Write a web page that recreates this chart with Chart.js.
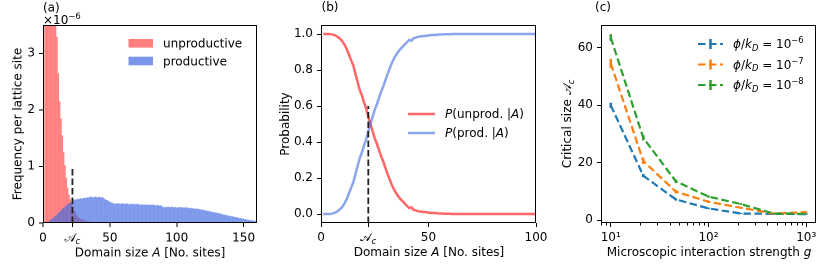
<!DOCTYPE html>
<html><head><meta charset="utf-8">
<script src="https://cdn.jsdelivr.net/npm/chart.js@4.4.1/dist/chart.umd.min.js"></script>
<style>
html,body{margin:0;padding:0;background:#fff;width:830px;height:277px;overflow:hidden}
canvas{position:absolute;left:0;top:0;width:830px;height:277px}
</style></head><body>
<canvas id="ca" width="830" height="277"></canvas>
<canvas id="cb" width="830" height="277"></canvas>
<canvas id="cc" width="830" height="277"></canvas>
<script>
// ---------------- DATA ----------------
// (a) histogram, frequency per lattice site in units of 1e-6, bins [A, A+1) starting at A = 1
const unproductiveFreq = [9.8, 8.9, 8.0, 7.2, 6.4, 5.6, 4.9, 4.3, 3.8, 3.29,
  2.65, 2.15, 1.85, 1.55, 1.25, 1.02, 0.8, 0.62, 0.5, 0.42,
  0.36, 0.28, 0.22, 0.17, 0.13, 0.1, 0.085, 0.07, 0.06, 0.05,
  0.042, 0.035, 0.029, 0.024, 0.02, 0.016, 0.013, 0.01, 0.008, 0.006,
  0.004, 0.003, 0.002, 0.001, 0.001];
const productiveFreq = [0, 0, 0.01, 0.03, 0.05, 0.07, 0.09, 0.11, 0.13, 0.15,
  0.18, 0.2, 0.22, 0.25, 0.27, 0.29, 0.31, 0.33, 0.35, 0.36,
  0.37, 0.4, 0.42, 0.41, 0.43, 0.42, 0.43, 0.44, 0.43, 0.44,
  0.45, 0.44, 0.46, 0.45, 0.47, 0.46, 0.45, 0.46, 0.47, 0.45,
  0.46, 0.46, 0.45, 0.46, 0.44, 0.42, 0.41, 0.4, 0.38, 0.37,
  0.36, 0.35, 0.34, 0.35, 0.34, 0.35, 0.34, 0.34, 0.35, 0.34,
  0.34, 0.35, 0.34, 0.33, 0.34, 0.34, 0.33, 0.34, 0.33, 0.34,
  0.33, 0.33, 0.32, 0.33, 0.32, 0.33, 0.32, 0.33, 0.32, 0.32,
  0.33, 0.32, 0.32, 0.31, 0.32, 0.31, 0.31, 0.31, 0.29, 0.28,
  0.28, 0.28, 0.29, 0.28, 0.28, 0.29, 0.28, 0.28, 0.28, 0.27,
  0.28, 0.28, 0.28, 0.27, 0.28, 0.27, 0.28, 0.27, 0.26, 0.27,
  0.26, 0.26, 0.25, 0.26, 0.25, 0.25, 0.24, 0.24, 0.23, 0.23,
  0.22, 0.22, 0.21, 0.21, 0.2, 0.2, 0.19, 0.19, 0.18, 0.18,
  0.17, 0.17, 0.16, 0.15, 0.15, 0.14, 0.14, 0.13, 0.13, 0.12,
  0.12, 0.11, 0.11, 0.1, 0.1, 0.09, 0.09, 0.08, 0.08, 0.07,
  0.07, 0.06, 0.06, 0.05, 0.05, 0.05, 0.04, 0.04, 0.04, 0.04];
const firstBin = 1;
const criticalSize = 22;
const histXTicks = [0, criticalSize, 50, 100, 150];
const histYTicks = [0, 1, 2, 3];
const acLineHistY = [0, 1.0];

// (b) conditional probabilities for A = 1..100
const probUnproductive = [1.0, 1.0, 1.0, 1.0, 0.998, 0.995, 0.99, 0.982, 0.972, 0.958,
  0.94, 0.915, 0.885, 0.855, 0.825, 0.78, 0.735, 0.69, 0.66, 0.62,
  0.585, 0.54, 0.5, 0.46, 0.42, 0.39, 0.355, 0.32, 0.29, 0.255,
  0.22, 0.19, 0.16, 0.135, 0.115, 0.097, 0.083, 0.07, 0.058, 0.045,
  0.033, 0.038, 0.024, 0.02, 0.016, 0.014, 0.012, 0.011, 0.01, 0.008,
  0.006, 0.005, 0.006, 0.004, 0.003, 0.003, 0.002, 0.002, 0.001, 0.001,
  0, 0, 0, 0, 0, 0, 0, 0, 0, 0,
  0, 0, 0, 0, 0, 0, 0, 0, 0, 0,
  0, 0, 0, 0, 0, 0, 0, 0, 0, 0,
  0, 0, 0, 0, 0, 0, 0, 0, 0, 0];
const probProductive = [0, 0, 0, 0, 0.002, 0.005, 0.01, 0.018, 0.028, 0.042,
  0.06, 0.085, 0.115, 0.145, 0.175, 0.22, 0.265, 0.31, 0.34, 0.38,
  0.415, 0.46, 0.5, 0.54, 0.58, 0.61, 0.645, 0.68, 0.71, 0.745,
  0.78, 0.81, 0.84, 0.865, 0.885, 0.903, 0.917, 0.93, 0.942, 0.955,
  0.967, 0.962, 0.976, 0.98, 0.984, 0.986, 0.988, 0.989, 0.99, 0.992,
  0.994, 0.995, 0.994, 0.996, 0.997, 0.997, 0.998, 0.998, 0.999, 0.999,
  1, 1, 1, 1, 1, 1, 1, 1, 1, 1,
  1, 1, 1, 1, 1, 1, 1, 1, 1, 1,
  1, 1, 1, 1, 1, 1, 1, 1, 1, 1,
  1, 1, 1, 1, 1, 1, 1, 1, 1, 1];
const probXTicks = [0, criticalSize, 50, 100];
const probYTicks = [0, 0.2, 0.4, 0.6, 0.8, 1.0];
const acLineProbY = [-0.05, 0.6];

// (c) critical size vs interaction strength
const interactionG = [10, 21.5, 46.4, 100, 215, 464, 1000];
const acPhi1e6 = [40.0, 15.5, 7.2, 4.1, 2.3, 2.2, 2.1];
const acPhi1e7 = [54.6, 20.6, 9.9, 6.4, 4.3, 2.3, 2.8];
const acPhi1e8 = [63.6, 28.7, 13.5, 8.2, 5.6, 2.3, 2.2];
const errPhi1e6 = [0.9, 0.6, 0.4, 0.3, 0.2, 0.2, 0.2];
const errPhi1e7 = [1.6, 1.0, 0.6, 0.4, 0.3, 0.2, 0.2];
const errPhi1e8 = [1.2, 0.9, 0.6, 0.4, 0.3, 0.2, 0.2];
const phiExponents = ['−6', '−7', '−8'];
const gMajorTicks = [10, 100, 1000];
const gMajorLabels = ['10¹', '10²', '10³'];
const gMinorTicks = [8, 9, 20, 30, 40, 50, 60, 70, 80, 90, 200, 300, 400, 500, 600, 700, 800, 900];
const critYTicks = [0, 20, 40, 60];

// ---------------- HELPERS ----------------
const FF = "'DejaVu Sans', sans-serif";
const FS = 12;
Chart.defaults.font.family = FF;
Chart.defaults.font.size = FS;
Chart.defaults.color = '#000';

function segFont(s, size) {
  const fs = (s.sub || s.sup) ? size * 0.7 : size;
  return (s.it ? 'italic ' : '') + fs + 'px ' + FF;
}
function richWidth(ctx, segs, size) {
  let w = 0;
  for (const s of segs) { ctx.font = segFont(s, size); w += ctx.measureText(s.t).width; }
  return w;
}
function drawRich(ctx, segs, x, y, size, align) {
  ctx.save();
  ctx.textBaseline = 'alphabetic';
  ctx.textAlign = 'left';
  ctx.fillStyle = '#000';
  const w = richWidth(ctx, segs, size);
  let cx = align === 'center' ? x - w / 2 : (align === 'right' ? x - w : x);
  const base = y + size * 0.36;
  for (const s of segs) {
    ctx.font = segFont(s, size);
    let dy = 0;
    if (s.sub) dy = size * 0.22;
    if (s.sup) dy = -size * 0.42;
    ctx.fillText(s.t, cx, base + dy);
    cx += ctx.measureText(s.t).width;
  }
  ctx.restore();
}
function drawRichRot(ctx, segs, x, y, size) {
  ctx.save();
  ctx.translate(x, y);
  ctx.rotate(-Math.PI / 2);
  drawRich(ctx, segs, 0, 0, size, 'center');
  ctx.restore();
}
function drawFrame(chart) {
  const {ctx, chartArea: a} = chart;
  ctx.save();
  ctx.strokeStyle = '#000';
  ctx.lineWidth = 1;
  const l = Math.round(a.left) + 0.5, t = Math.round(a.top) + 0.5;
  const r = Math.round(a.right) - 0.5, b = Math.round(a.bottom) - 0.5;
  ctx.strokeRect(l, t, r - l, b - t);
  ctx.restore();
}
const acSegs = [{t: '𝒜'}, {t: 'c', it: true, sub: true}];

function axisCommon(fixedTicks, cb, isX, sizeFix) {
  return {
    offset: false,
    grid: {display: true, drawOnChartArea: false, drawTicks: true, tickLength: 4, color: '#000', offset: false},
    border: {display: false},
    ticks: {autoSkip: false, maxRotation: 0, minRotation: 0, padding: 4, color: '#000', font: {size: FS, family: FF}, callback: cb},
    afterBuildTicks: s => { s.ticks = fixedTicks.map(v => ({value: v})); },
    afterFit: s => { if (isX) s.height = sizeFix; else s.width = sizeFix; }
  };
}

const RED_HIST = 'rgba(255,0,0,0.5)';
const BLUE_HIST = 'rgba(65,105,225,0.7)';
const RED_LINE = 'rgba(255,0,0,0.6)';
const BLUE_LINE = 'rgba(65,105,225,0.6)';
const TAB = ['#1f77b4', '#ff7f0e', '#2ca02c'];

// ---------------- (a) ----------------
const histCenters = productiveFreq.map((_, i) => firstBin + i + 0.5);
new Chart(document.getElementById('ca'), {
  type: 'bar',
  data: {
    datasets: [
      {label: 'unproductive', data: unproductiveFreq.map((v, i) => ({x: histCenters[i], y: v})),
        backgroundColor: RED_HIST, barPercentage: 1, categoryPercentage: 1, grouped: false, inflateAmount: 0, borderWidth: 0, order: 3},
      {label: 'productive', data: productiveFreq.map((v, i) => ({x: histCenters[i], y: v})),
        backgroundColor: BLUE_HIST, barPercentage: 1, categoryPercentage: 1, grouped: false, inflateAmount: 0, borderWidth: 0, order: 2},
      {type: 'line', label: 'Ac', data: acLineHistY.map(y => ({x: criticalSize, y})),
        borderColor: '#222', borderWidth: 1.8, borderDash: [6.5, 3], pointRadius: 0, order: 1}
    ]
  },
  options: {
    responsive: false, animation: false, devicePixelRatio: 2,
    layout: {padding: {left: 3, right: 573, top: 25, bottom: 14}},
    plugins: {legend: {display: false}, tooltip: {enabled: false}},
    scales: {
      x: Object.assign({type: 'linear', min: 0, max: 160}, axisCommon(histXTicks, v => v === criticalSize ? '' : String(v), true, 40)),
      y: Object.assign({type: 'linear', min: 0, max: 3.5}, axisCommon(histYTicks, v => String(v), false, 40))
    }
  },
  plugins: [{
    id: 'decorA',
    afterDraw(chart) {
      const ctx = chart.ctx;
      drawFrame(chart);
      drawRich(ctx, [{t: '(a)'}], 43, 7, FS, 'left');
      drawRich(ctx, [{t: '×10'}, {t: '−6', sup: true}], 43, 19.5, FS, 'left');
      drawRichRot(ctx, [{t: 'Frequency per lattice site'}], 17, 124, FS);
      drawRich(ctx, [{t: 'Domain size '}, {t: 'A', it: true}, {t: ' [No. sites]'}], 150, 252, FS, 'center');
      drawRich(ctx, acSegs, chart.scales.x.getPixelForValue(criticalSize), 237, FS, 'center');
      // legend
      ctx.save();
      ctx.fillStyle = RED_HIST; ctx.fillRect(128.5, 39, 24.5, 8.6);
      ctx.fillStyle = BLUE_HIST; ctx.fillRect(128.5, 56.7, 24.5, 8.6);
      ctx.restore();
      drawRich(ctx, [{t: 'unproductive'}], 163, 43.3, FS, 'left');
      drawRich(ctx, [{t: 'productive'}], 163, 61, FS, 'left');
    }
  }]
});

// ---------------- (b) ----------------
const probSizes = probUnproductive.map((_, i) => i + 1);
new Chart(document.getElementById('cb'), {
  type: 'line',
  data: {
    datasets: [
      {label: 'P(unprod.|A)', data: probUnproductive.map((v, i) => ({x: probSizes[i], y: v})),
        borderColor: RED_LINE, borderWidth: 2.5, pointRadius: 0, tension: 0, order: 3},
      {label: 'P(prod.|A)', data: probProductive.map((v, i) => ({x: probSizes[i], y: v})),
        borderColor: BLUE_LINE, borderWidth: 2.5, pointRadius: 0, tension: 0, order: 2},
      {label: 'Ac', data: acLineProbY.map(y => ({x: criticalSize, y})),
        borderColor: '#222', borderWidth: 1.8, borderDash: [6.5, 3], pointRadius: 0, order: 1}
    ]
  },
  options: {
    responsive: false, animation: false, devicePixelRatio: 1,
    layout: {padding: {left: 281, right: 294, top: 25, bottom: 14}},
    plugins: {legend: {display: false}, tooltip: {enabled: false}},
    scales: {
      x: Object.assign({type: 'linear', min: 0, max: 100}, axisCommon(probXTicks, v => v === criticalSize ? '' : String(v), true, 40)),
      y: Object.assign({type: 'linear', min: -0.05, max: 1.05}, axisCommon(probYTicks, v => Number(v).toFixed(1), false, 40))
    }
  },
  plugins: [{
    id: 'decorB',
    afterDraw(chart) {
      const ctx = chart.ctx;
      drawFrame(chart);
      drawRich(ctx, [{t: '(b)'}], 321.5, 7, FS, 'left');
      drawRichRot(ctx, [{t: 'Probability'}], 285, 124, FS);
      drawRich(ctx, [{t: 'Domain size '}, {t: 'A', it: true}, {t: ' [No. sites]'}], 429, 252, FS, 'center');
      drawRich(ctx, acSegs, chart.scales.x.getPixelForValue(criticalSize), 237, FS, 'center');
      ctx.save();
      ctx.lineWidth = 2.5;
      ctx.strokeStyle = RED_LINE;
      ctx.beginPath(); ctx.moveTo(408, 114); ctx.lineTo(435, 114); ctx.stroke();
      ctx.strokeStyle = BLUE_LINE;
      ctx.beginPath(); ctx.moveTo(408, 133); ctx.lineTo(435, 133); ctx.stroke();
      ctx.restore();
      drawRich(ctx, [{t: 'P', it: true}, {t: '(unprod. |'}, {t: 'A', it: true}, {t: ')'}], 445, 114, FS, 'left');
      drawRich(ctx, [{t: 'P', it: true}, {t: '(prod. |'}, {t: 'A', it: true}, {t: ')'}], 445, 133, FS, 'left');
    }
  }]
});

// ---------------- (c) ----------------
const critSeries = [acPhi1e6, acPhi1e7, acPhi1e8];
const critErrors = [errPhi1e6, errPhi1e7, errPhi1e8];
const gAllTicks = gMinorTicks.concat(gMajorTicks).sort((a, b) => a - b);
const axC = axisCommon(gAllTicks, v => {
  const k = gMajorTicks.indexOf(Number(v));
  return k >= 0 ? gMajorLabels[k] : '';
}, true, 40);
axC.grid.tickColor = c => (c.tick && gMajorTicks.indexOf(c.tick.value) >= 0) ? '#000' : 'rgba(0,0,0,0)';
new Chart(document.getElementById('cc'), {
  type: 'line',
  data: {
    datasets: critSeries.map((arr, k) => ({
      label: 'phi/kD = 10^' + phiExponents[k],
      data: arr.map((v, i) => ({x: interactionG[i], y: v})),
      borderColor: TAB[k], borderWidth: 2.2, borderDash: [7.5, 3.5], pointRadius: 0, tension: 0, order: 3 - k
    }))
  },
  options: {
    responsive: false, animation: false, devicePixelRatio: 1,
    layout: {padding: {left: 561, right: 14, top: 25, bottom: 14}},
    plugins: {legend: {display: false}, tooltip: {enabled: false}},
    scales: {
      x: Object.assign({type: 'logarithmic', min: Math.pow(10, 0.9), max: Math.pow(10, 3.1)}, axC),
      y: Object.assign({type: 'linear', min: -1, max: 68}, axisCommon(critYTicks, v => String(v), false, 40))
    }
  },
  plugins: [{
    id: 'decorC',
    afterDatasetsDraw(chart) {
      const ctx = chart.ctx, xs = chart.scales.x, ys = chart.scales.y;
      ctx.save();
      ctx.lineWidth = 2.5;
      critSeries.forEach((arr, k) => {
        ctx.strokeStyle = TAB[k];
        arr.forEach((v, i) => {
          const px = xs.getPixelForValue(interactionG[i]);
          ctx.beginPath();
          ctx.moveTo(px, ys.getPixelForValue(v - critErrors[k][i]));
          ctx.lineTo(px, ys.getPixelForValue(v + critErrors[k][i]));
          ctx.stroke();
        });
      });
      ctx.restore();
    },
    afterDraw(chart) {
      const ctx = chart.ctx, xs = chart.scales.x, a = chart.chartArea;
      drawFrame(chart);
      // minor ticks
      ctx.save();
      ctx.strokeStyle = '#000'; ctx.lineWidth = 1;
      gMinorTicks.forEach(v => {
        const px = Math.round(xs.getPixelForValue(v)) + 0.5;
        ctx.beginPath(); ctx.moveTo(px, a.bottom); ctx.lineTo(px, a.bottom + 2.5); ctx.stroke();
      });
      ctx.restore();
      drawRich(ctx, [{t: '(c)'}], 595, 7, FS, 'left');
      drawRichRot(ctx, [{t: 'Critical size '}, {t: '𝒜'}, {t: 'c', it: true, sub: true}], 567, 124, FS);
      drawRich(ctx, [{t: 'Microscopic interaction strength '}, {t: 'g', it: true}], 709, 252, FS, 'center');
      // legend
      const rows = [44, 64.5, 85];
      rows.forEach((ry, k) => {
        ctx.save();
        ctx.strokeStyle = TAB[k];
        ctx.lineWidth = 2.2;
        ctx.setLineDash([7.5, 3.5]);
        ctx.beginPath(); ctx.moveTo(698, ry); ctx.lineTo(723, ry); ctx.stroke();
        ctx.setLineDash([]);
        ctx.lineWidth = 2.5;
        ctx.beginPath(); ctx.moveTo(710.5, ry - 5); ctx.lineTo(710.5, ry + 5); ctx.stroke();
        ctx.restore();
        drawRich(ctx, [{t: 'ϕ', it: true}, {t: '/'}, {t: 'k', it: true}, {t: 'D', it: true, sub: true},
          {t: ' = 10'}, {t: phiExponents[k], sup: true}], 733, ry, FS, 'left');
      });
    }
  }]
});
</script></body></html>
